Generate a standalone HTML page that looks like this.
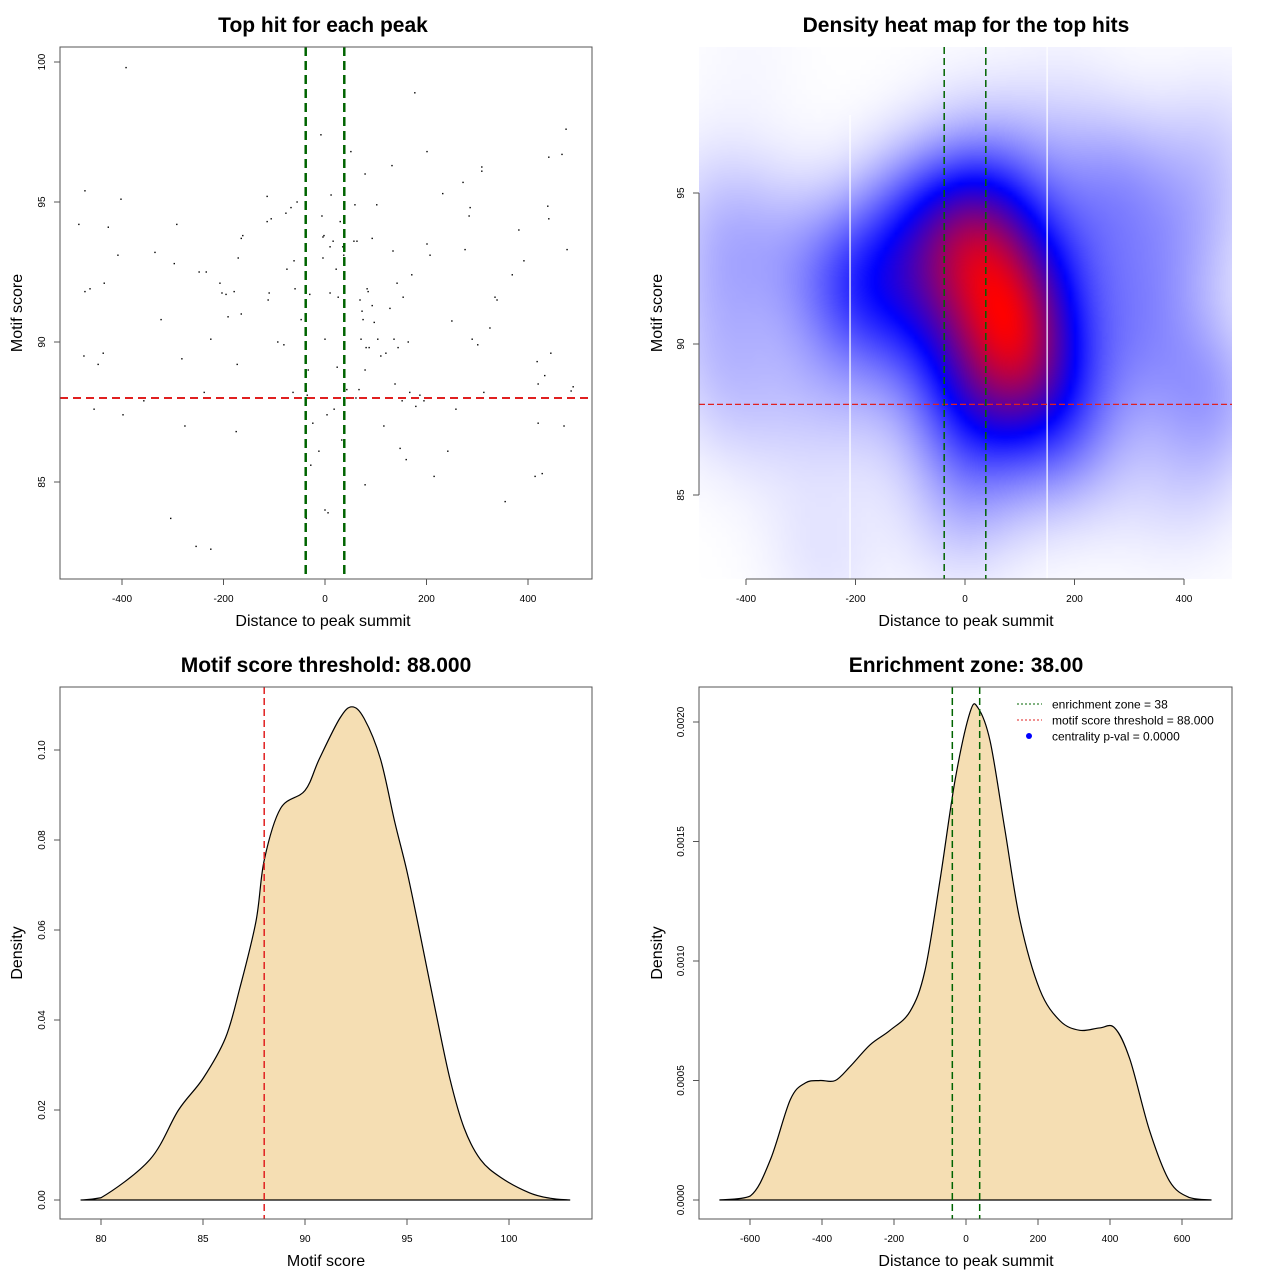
<!DOCTYPE html>
<html><head><meta charset="utf-8"><style>
html,body{margin:0;padding:0;background:#fff;}
#wrap{position:relative;width:1280px;height:1280px;overflow:hidden;}
svg{position:absolute;left:0;top:0;}
canvas{position:absolute;left:699px;top:47px;}
text{font-family:"Liberation Sans",sans-serif;fill:#000;}
</style></head><body>
<div id="wrap">
<canvas id="heat" width="533" height="532"></canvas>
<svg id="svg" width="1280" height="1280" xmlns="http://www.w3.org/2000/svg"></svg>
</div>
<script>
// ---- data ----
const scatterDist = [-485,-475,-473,-473,-463,-455,-447,-437,-435,-427,-408,-402,-398,-392,-357,-335,-323,-304,-297,-292,-282,-276,-254,-248,-238,-234,-225,-225,-207,-203,-195,-191,-179,-175,-173,-171,-165,-162,-165,-114,-112,-114,-110,-106,-93,-81,-77,-75,-67,-63,-61,-59,-55,-47,-39,-37,-35,-33,-30,-28,-24,-12,-8,-6,-4,-4,-2,0,0,4,6,10,10,12,16,18,22,24,26,30,33,35,37,39,43,51,57,61,63,59,67,69,73,71,75,79,79,81,83,79,85,87,93,93,97,102,104,110,116,120,128,132,134,136,138,142,144,148,152,154,160,164,167,171,177,179,187,195,201,201,207,215,232,242,250,258,272,276,284,286,290,301,309,309,313,325,335,339,355,369,382,392,414,418,420,420,428,433,439,441,441,445,467,471,475,477,485,489];
const scatterScore = [94.2,89.5,95.4,91.8,91.9,87.6,89.2,89.6,92.1,94.1,93.1,95.1,87.4,99.8,87.9,93.2,90.8,83.7,92.8,94.2,89.4,87.0,82.7,92.5,88.2,92.5,82.6,90.1,92.1,91.75,91.7,90.9,91.8,86.8,89.2,93.0,93.7,93.8,91.0,95.2,91.5,94.3,91.75,94.4,90.0,89.9,94.6,92.6,94.8,88.2,92.9,91.9,95.0,90.8,91.5,83.7,88.1,89.0,91.7,85.6,87.1,86.1,97.4,94.5,93.0,93.75,93.8,90.1,84.0,87.4,83.9,93.4,91.75,95.25,93.6,87.6,92.6,89.1,91.6,94.3,86.5,93.4,93.1,89.0,88.3,96.8,93.6,88.0,93.6,94.9,88.3,91.5,91.1,90.1,90.8,89.0,84.9,89.8,91.9,96.0,91.8,89.8,93.7,91.3,90.7,94.9,90.1,89.5,87.0,89.6,91.2,96.3,93.25,90.1,88.5,92.1,89.8,86.2,87.9,91.6,85.8,90.0,88.2,92.4,98.9,87.7,88.1,87.9,93.5,96.8,93.1,85.2,95.3,86.1,90.75,87.6,95.7,93.3,94.5,94.8,90.1,89.9,96.1,96.25,88.2,90.5,91.6,91.5,84.3,92.4,94.0,92.9,85.2,89.3,88.5,87.1,85.3,88.8,94.85,94.4,96.6,89.6,96.7,87.0,97.6,93.3,88.25,88.4];
const scoreGrid = [79,80,82.4,83.8,85,86.1,86.8,87.6,88,88.8,90,90.7,91.7,92.3,92.9,93.7,94.4,95,95.6,96.4,97.1,97.8,98.6,99.6,101,102,103];
const scoreDens = [0,0.0005,0.009,0.02,0.027,0.036,0.047,0.062,0.0755,0.087,0.091,0.098,0.107,0.1096,0.107,0.098,0.084,0.073,0.06,0.042,0.027,0.016,0.009,0.005,0.0016,0.0004,0];
const distGrid = [-685,-599,-543,-488,-446,-405,-363,-321,-266,-211,-155,-114,-72,-30,11,33,67,108,150,205,261,316,371,413,455,510,565,621,682];
const distDens = [0,0.000017,0.00017,0.00042,0.00049,0.0005,0.0005,0.00056,0.00065,0.00071,0.00079,0.00096,0.00134,0.00176,0.00204,0.00206,0.00192,0.00155,0.00117,0.00088,0.00075,0.00071,0.00072,0.00072,0.00059,0.00029,0.00008,0.00001,0];
const xTicks1 = [-400,-200,0,200,400];
const yTicks1 = [85,90,95,100];
const xTicks2 = [-400,-200,0,200,400];
const yTicks2 = [85,90,95];
const xTicks3 = [80,85,90,95,100];
const yTicks3 = [0,0.02,0.04,0.06,0.08,0.10];
const yLabels3 = ["0.00","0.02","0.04","0.06","0.08","0.10"];
const xTicks4 = [-600,-400,-200,0,200,400,600];
const yTicks4 = [0,0.0005,0.001,0.0015,0.002];
const yLabels4 = ["0.0000","0.0005","0.0010","0.0015","0.0020"];
const zone = 38, threshold = 88;

// ---- helpers ----
const svg = document.getElementById('svg');
const NS = 'http://www.w3.org/2000/svg';
function mk(tag, attrs, parent){const e=document.createElementNS(NS,tag);for(const k in attrs)e.setAttribute(k,attrs[k]);(parent||svg).appendChild(e);return e;}
function lin(d0,d1,p0,p1){return v=>p0+(v-d0)*(p1-p0)/(d1-d0);}
function txt(x,y,s,size,opts){const e=mk('text',Object.assign({x:x,y:y,'font-size':size,'text-anchor':'middle'},opts||{}));e.textContent=s;return e;}
function smoothPath(xs,ys){let d='M'+xs[0]+','+ys[0];for(let i=0;i<xs.length-1;i++){const x0=xs[i-1]??xs[i],y0=ys[i-1]??ys[i],x3=xs[i+2]??xs[i+1],y3=ys[i+2]??ys[i+1];let c1y=ys[i]+(ys[i+1]-y0)/6,c2y=ys[i+1]-(y3-ys[i])/6;const base=Math.max(...ys);c1y=Math.min(c1y,base);c2y=Math.min(c2y,base);const c1x=xs[i]+(xs[i+1]-x0)/6,c2x=xs[i+1]-(x3-xs[i])/6;d+=' C'+c1x+','+c1y+' '+c2x+','+c2y+' '+xs[i+1]+','+ys[i+1];}return d;}
function axes(g,box,xs,xT,xL,ys,yT,yL,drawBox){
  if(drawBox){const r=mk('rect',{x:box[0],y:box[1],width:box[2]-box[0],height:box[3]-box[1],fill:'none',stroke:'#555','stroke-width':1},g);
  
  }
  const xa=mk('g',{},g);
  
  
  if(!drawBox){mk('line',{x1:xs(xT[0]),x2:xs(xT[xT.length-1]),y1:box[3],y2:box[3],stroke:'#555'},xa);}
  xT.forEach((v,i)=>{const px=xs(v);mk('line',{x1:px,x2:px,y1:box[3],y2:box[3]+6,stroke:'#555'},xa);
    const t=txt(px,box[3]+23,xL[i],10,{},xa);xa.appendChild(t);
    
    });
  const ya=mk('g',{},g);
  
  
  if(!drawBox){mk('line',{x1:box[0],x2:box[0],y1:ys(yT[0]),y2:ys(yT[yT.length-1]),stroke:'#555'},ya);}
  yT.forEach((v,i)=>{const py=ys(v);mk('line',{x1:box[0]-6,x2:box[0],y1:py,y2:py,stroke:'#555'},ya);
    const t=txt(0,0,yL[i],10,{transform:'translate('+(box[0]-15)+','+py+') rotate(-90)'});ya.appendChild(t);
    
    });
}
function titles(g,cx,ty,title,xlab,xly,ylab,ylx,yly){
  const t=txt(cx,ty,title,21,{'font-weight':'bold'});g.appendChild(t);
  
  
  const xl=txt(cx,xly,xlab,16);g.appendChild(xl);
  
  
  const yl=txt(0,0,ylab,16,{transform:'translate('+ylx+','+yly+') rotate(-90)'});g.appendChild(yl);
  
  
}

// ---- panel 1: scatter ----
const g1=mk('g',{});


const b1=[60,47,592,579];
const x1=lin(0,400,325,528), y1=lin(90,100,342,62);
scatterDist.forEach((d,i)=>{const c=mk('rect',{x:x1(d)-0.7,y:y1(scatterScore[i])-0.7,width:1.4,height:1.4,fill:'#000'},g1);
  
  });
let l=mk('line',{x1:b1[0],x2:b1[2],y1:y1(threshold),y2:y1(threshold),stroke:'#e02020','stroke-width':2,'stroke-dasharray':'8,5'},g1);


[-zone,zone].forEach(z=>{const e=mk('line',{x1:x1(z),x2:x1(z),y1:b1[1],y2:b1[3],stroke:'#006400','stroke-width':2.5,'stroke-dasharray':'9,5'},g1);
  
  });
axes(g1,b1,x1,xTicks1,xTicks1.map(String),y1,yTicks1,yTicks1.map(String),true);
titles(g1,323,32,'Top hit for each peak','Distance to peak summit',626,'Motif score',22,313);

// ---- panel 2: heatmap ----
const g2=mk('g',{});


const b2=[699,47,1232,579];
const x2=lin(0,400,965,1184), y2=lin(90,95,344,193);
(function(){
  const cv=document.getElementById('heat'),ctx=cv.getContext('2d');
  const W=107,H=107,cw=533/W,ch=532/H;
  const hx=78,hy=1.85,vals=new Float32Array(W*H);let mx=0;
  for(let j=0;j<H;j++)for(let i=0;i<W;i++){
    const dx=(b2[0]+(i+0.5)*cw-965)*400/219, dy=90-(b2[1]+(j+0.5)*ch-344)*5/151;
    let s=0;for(let k=0;k<scatterDist.length;k++){const a=(scatterDist[k]-dx)/hx,b=(scatterScore[k]-dy)/hy;s+=Math.exp(-0.5*(a*a+b*b));}
    vals[j*W+i]=s;if(s>mx)mx=s;}
  const off=document.createElement('canvas');off.width=W;off.height=H;const oc=off.getContext('2d');const im=oc.createImageData(W,H);
  for(let p=0;p<W*H;p++){let t=Math.pow(vals[p]/mx,1.3);let r,g,b;
    if(t<0.5){const u=t/0.5;r=255*(1-u);g=255*(1-u);b=255;}else{const u=(t-0.5)/0.5;r=255*u;g=0;b=255*(1-u);}
    im.data[p*4]=r;im.data[p*4+1]=g;im.data[p*4+2]=b;im.data[p*4+3]=255;}
  oc.putImageData(im,0,0);ctx.imageSmoothingEnabled=true;ctx.drawImage(off,0,0,533,532);
})();
[-210,150].forEach(v=>{const e=mk('line',{x1:x2(v),x2:x2(v),y1:b2[1]+(v<0?68:0),y2:b2[3],stroke:'#fff','stroke-width':1.2},g2);
  
  });
l=mk('line',{x1:b2[0],x2:b2[2],y1:y2(threshold),y2:y2(threshold),stroke:'#e02020','stroke-width':1.3,'stroke-dasharray':'6,3'},g2);


[-zone,zone].forEach(z=>{const e=mk('line',{x1:x2(z),x2:x2(z),y1:b2[1],y2:b2[3],stroke:'#006400','stroke-width':1.5,'stroke-dasharray':'7,4'},g2);
  
  });
axes(g2,b2,x2,xTicks2,xTicks2.map(String),y2,yTicks2,yTicks2.map(String),false);
titles(g2,966,32,'Density heat map for the top hits','Distance to peak summit',626,'Motif score',662,313);

// ---- panel 3: score density ----
const g3=mk('g',{});


const b3=[60,687,592,1219];
const x3=lin(80,100,101,509), y3=lin(0,0.1,1200,750);
const d3=smoothPath(scoreGrid.map(x3),scoreDens.map(y3));
let a=mk('path',{d:d3+' Z',fill:'#F5DEB3',stroke:'#000','stroke-width':1.2},g3);


l=mk('line',{x1:x3(threshold),x2:x3(threshold),y1:b3[1],y2:b3[3],stroke:'#e02020','stroke-width':1.5,'stroke-dasharray':'7,4'},g3);


axes(g3,b3,x3,xTicks3,xTicks3.map(String),y3,yTicks3,yLabels3,true);
titles(g3,326,672,'Motif score threshold: 88.000','Motif score',1266,'Density',22,953);

// ---- panel 4: distance density ----
const g4=mk('g',{});


const b4=[699,687,1232,1219];
const x4=lin(0,600,966,1182), y4=lin(0,0.002,1200,722);
const d4=smoothPath(distGrid.map(x4),distDens.map(y4));
a=mk('path',{d:d4+' Z',fill:'#F5DEB3',stroke:'#000','stroke-width':1.2},g4);


[-zone,zone].forEach(z=>{const e=mk('line',{x1:x4(z),x2:x4(z),y1:b4[1],y2:b4[3],stroke:'#006400','stroke-width':1.5,'stroke-dasharray':'7,4'},g4);
  
  });
axes(g4,b4,x4,xTicks4,xTicks4.map(String),y4,yTicks4,yLabels4,true);
titles(g4,966,672,'Enrichment zone: 38.00','Distance to peak summit',1266,'Density',662,953);
const lg=mk('g',{},g4);


[['enrichment zone = 38','#006400','line'],['motif score threshold = 88.000','#e02020','line'],['centrality p-val = 0.0000','#0000ff','dot']].forEach((it,i)=>{
  const yy=704+i*16;
  const en=mk('g',{},lg);
  
  
  if(it[2]==='line')mk('line',{x1:1017,x2:1042,y1:yy,y2:yy,stroke:it[1],'stroke-width':1,'stroke-dasharray':'2,2'},en);
  else mk('circle',{cx:1029,cy:yy,r:3,fill:it[1]},en);
  const t=txt(1052,yy+4.5,it[0],12,{'text-anchor':'start'});en.appendChild(t);
});
</script>
</body></html>
